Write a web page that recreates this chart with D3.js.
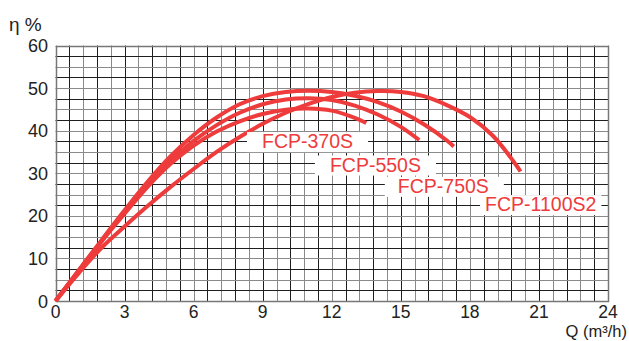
<!DOCTYPE html>
<html><head><meta charset="utf-8">
<script src="https://cdn.jsdelivr.net/npm/d3@7"></script>
<style>html,body{margin:0;padding:0;background:#fff}svg{display:block}</style>
</head><body>
<svg id="chart" width="629" height="341"></svg>
<script>
// ---- data ----
const seriesNames = ["FCP-370S", "FCP-550S", "FCP-750S", "FCP-1100S2"];
const q370  = [0,1,2,3,4,5,6,7,8,9,10,11,12,13,13.5];
const e370  = [0,7,14,20.5,26.8,32.2,36.5,39.8,42.2,43.9,44.9,45.2,44.7,43.0,41.8];
const q550  = [0,1,2,3,4,5,6,7,8,9,10,11,12,13,14,15,15.8];
const e550  = [0,7,14,21,27.4,33,37.6,41.3,44.2,46.2,47.3,47.6,47.2,45.9,43.8,40.9,37.8];
const q750  = [0,1,2,3,4,5,6,7,8,9,10,11,12,13,14,15,16,17,17.3];
const e750  = [0,7.2,14.3,21.3,28,34,39,43.1,46.2,48.1,49.1,49.4,49.1,48.2,46.7,44.5,41.5,37.7,36.3];
const q1100 = [0,1,2,3,4,5,6,7,8,9,10,11,12,13,14,15,16,17,18,19,20,20.2];
const e1100 = [0,6.5,12.5,17.5,22.3,26.8,31,35,38.5,41.6,44.2,46.3,47.9,48.9,49.3,49.1,48.1,46,43.2,38.8,32,30.4];
const xTicks = [0,3,6,9,12,15,18,21,24];
const yTicks = [0,10,20,30,40,50,60];
const xTitle = "Q (m³/h)";
const yTitle = "η %";

// ---- layout ----
const svg = d3.select("#chart");
const x = d3.scaleLinear().domain([0,24]).range([55.5,608]);
const y = d3.scaleLinear().domain([0,60]).range([301,45.5]);
const red = "#ee3b3b";
const font = "Liberation Sans, Arial, sans-serif";

// grid: 40 vertical cells (0.6), 24 horizontal cells (2.5)
const vLines = d3.range(0,41).map(i => i*0.6);
const hLines = d3.range(0,25).map(i => i*2.5);
const g = svg.append("g");
g.selectAll(".v").data(vLines).join("line")
  .attr("x1", d => Math.round(x(d))+0.5).attr("x2", d => Math.round(x(d))+0.5)
  .attr("y1", y(60)).attr("y2", y(0))
  .attr("stroke", (d,i) => i%2 ? "#1e1e1e" : "#8a8a8a").attr("stroke-width", 1);
g.selectAll(".h").data(hLines).join("line")
  .attr("y1", d => Math.round(y(d))+0.5).attr("y2", d => Math.round(y(d))+0.5)
  .attr("x1", x(0)).attr("x2", x(24))
  .attr("stroke", (d,i) => i%2 ? "#1e1e1e" : "#8a8a8a").attr("stroke-width", 1);
// border
svg.append("rect").attr("x", Math.round(x(0))+0.5).attr("y", Math.round(y(60))+0.5)
  .attr("width", Math.round(x(24))-Math.round(x(0))).attr("height", Math.round(y(0))-Math.round(y(60)))
  .attr("fill","none").attr("stroke","#777").attr("stroke-width",1.5);

// curves
const series = [[q370,e370],[q550,e550],[q750,e750],[q1100,e1100]];
const line = d3.line().x(d => x(d[0])).y(d => y(d[1])).curve(d3.curveCatmullRom.alpha(0.5));
svg.append("g").selectAll("path").data(series).join("path")
  .attr("d", s => line(d3.zip(s[0], s[1])))
  .attr("fill","none").attr("stroke", red).attr("stroke-width", 4).attr("stroke-linecap","butt");

// labels with white boxes
const labelAt = [[8.97,35.9,15,15],[11.92,30.4,15,15],[14.87,25.4,13,15],[18.66,21.1,5,5]];
const lg = svg.append("g");
seriesNames.forEach((name,i) => {
  const [lq, le, pl, pr] = labelAt[i];
  const grp = lg.append("g");
  const r = grp.append("rect").attr("fill","#fff");
  const t = grp.append("text").attr("x", x(lq)).attr("y", y(le))
    .attr("font-family", font).attr("font-size", 19.5).attr("fill", red).text(name);
  const bb = t.node().getBBox();
  r.attr("x", bb.x - pl).attr("y", y(le) - 16).attr("width", bb.width + pl + pr).attr("height", 20);
});

// ticks labels
svg.append("g").selectAll("text").data(xTicks).join("text")
  .attr("x", d => x(d)).attr("y", 318).attr("text-anchor","middle")
  .attr("font-family", font).attr("font-size", 17.5).attr("fill","#222").text(d => d);
svg.append("g").selectAll("text").data(yTicks).join("text")
  .attr("x", 48).attr("y", d => y(d) + 6.5).attr("text-anchor","end")
  .attr("font-family", font).attr("font-size", 18).attr("fill","#222").text(d => d);

// axis titles
svg.append("text").attr("x", 627).attr("y", 337).attr("text-anchor","end")
  .attr("font-family", font).attr("font-size", 16.5).attr("fill","#222").text(xTitle);
svg.append("text").attr("x", 9).attr("y", 31)
  .attr("font-family", font).attr("font-size", 19).attr("fill","#222").text(yTitle);
</script>
</body></html>
